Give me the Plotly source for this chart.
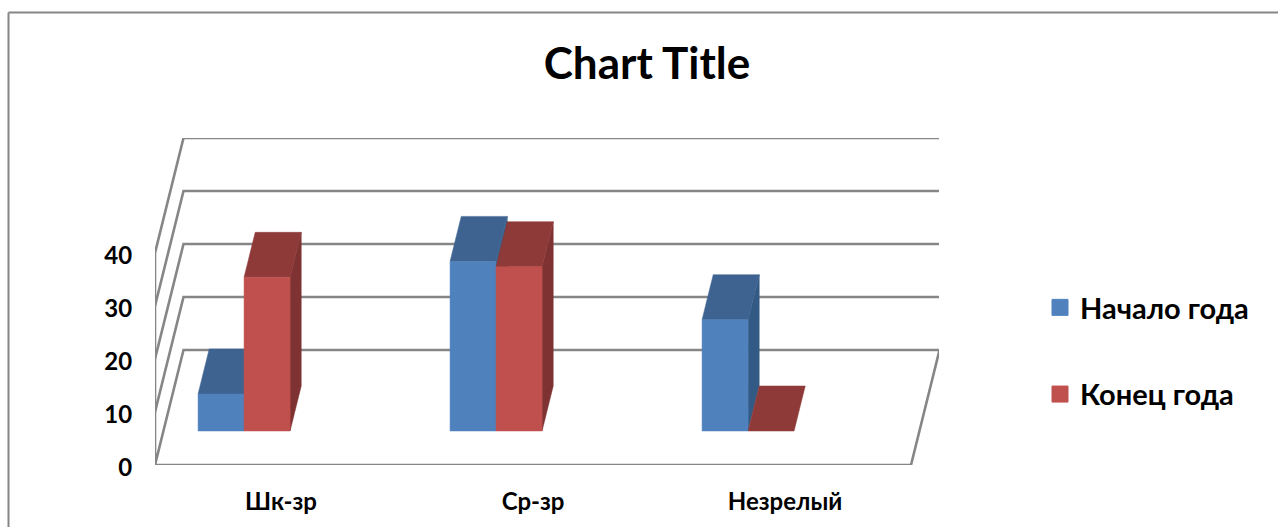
import plotly.graph_objects as go

categories = ["Шк-зр", "Ср-зр", "Незрелый"]
series_names = ["Начало года", "Конец года"]
start_of_year = [7, 32, 21]
end_of_year = [29, 31, 0]
value_ticks = [0, 10, 20, 30, 40]

FRONT = {"Начало года": "#4F81BD", "Конец года": "#C0504D"}
TOP = {"Начало года": "#3E6390", "Конец года": "#8E3A38"}
SIDE = {"Начало года": "#335A85", "Конец года": "#7E3231"}
GRID = "#868686"
FONT = "Lato, 'Open Sans', sans-serif"

PX_PER_CAT = 252.0
PX_PER_VAL = 5.3
DEPTH_X = 28.5 / PX_PER_CAT
DEPTH_Y = 115 / PX_PER_VAL
D0, D1 = 34 / 115, 79 / 115
BAR_W = 46 / PX_PER_CAT
BAR_MID = 0.32


def proj(x, v, d):
    return x + d * DEPTH_X, v + d * DEPTH_Y


fig = go.Figure()


def poly(points, color):
    xy = [proj(*p) for p in points]
    fig.add_trace(go.Scatter(
        x=[p[0] for p in xy] + [xy[0][0]], y=[p[1] for p in xy] + [xy[0][1]],
        mode="lines", fill="toself", fillcolor=color,
        line=dict(color=color, width=0.5), showlegend=False, hoverinfo="skip"))


def wall(points):
    xy = [proj(*p) for p in points]
    fig.add_trace(go.Scatter(
        x=[p[0] for p in xy], y=[p[1] for p in xy], mode="lines",
        line=dict(color=GRID, width=2.6), showlegend=False, hoverinfo="skip"))


n = len(categories)
for v in value_ticks[1:]:
    wall([(0, v, 0), (0, v, 1), (n, v, 1)])
wall([(0, value_ticks[-1], 0), (0, 0, 0), (n, 0, 0), (n, 0, 1), (0, 0, 1), (0, 0, 0)])

for i in range(n):
    for j, (name, vals) in enumerate(zip(series_names, [start_of_year, end_of_year])):
        x0 = i + BAR_MID + (j - 1) * BAR_W
        x1 = x0 + BAR_W
        v = vals[i]
        if v > 0:
            poly([(x1, 0, D0), (x1, 0, D1), (x1, v, D1), (x1, v, D0)], SIDE[name])
        poly([(x0, v, D0), (x1, v, D0), (x1, v, D1), (x0, v, D1)], TOP[name])
        if v > 0:
            poly([(x0, 0, D0), (x1, 0, D0), (x1, v, D0), (x0, v, D0)], FRONT[name])

for name in series_names:
    fig.add_trace(go.Scatter(
        x=[None], y=[None], mode="markers", name=name, legendgroup=name,
        marker=dict(symbol="square", size=16, color=FRONT[name],
                    line=dict(color=FRONT[name], width=1))))

fig.update_layout(
    width=1278, height=527, autosize=False,
    margin=dict(l=155, r=339, t=138, b=62, pad=0, autoexpand=False),
    paper_bgcolor="white", plot_bgcolor="rgba(0,0,0,0)",
    title=dict(text="<b>Chart Title</b>", x=647 / 1278, xanchor="center",
               y=1 - 64 / 527, yanchor="middle",
               font=dict(family=FONT, size=44, color="black")),
    xaxis=dict(range=[0, 784 / PX_PER_CAT], tickmode="array",
               tickvals=[i + 0.5 for i in range(n)], ticktext=categories,
               showgrid=False, zeroline=False, showline=False,
               ticks="outside", ticklen=15, tickcolor="rgba(0,0,0,0)",
               tickfont=dict(family=FONT, size=24, color="black", weight="bold")),
    yaxis=dict(range=[0, 327 / PX_PER_VAL], tickmode="array", tickvals=value_ticks,
               ticktext=[str(v) for v in value_ticks],
               showgrid=False, zeroline=False, showline=False,
               ticks="outside", ticklen=17, tickcolor="rgba(0,0,0,0)",
               ticklabelshift=3,
               tickfont=dict(family=FONT, size=24, color="black", weight="bold")),
    legend=dict(x=1040 / 1278, xref="container", xanchor="left", y=1 - 282 / 527,
                yref="container", yanchor="top", tracegroupgap=46,
                font=dict(family=FONT, size=29, color="black", weight="bold"),
                bgcolor="rgba(0,0,0,0)"),
    shapes=[
        dict(type="line", xref="paper", yref="paper",
             x0=(8.5 - 155) / 784, x1=(1278 - 155) / 784,
             y0=(465 - 12.5) / 327, y1=(465 - 12.5) / 327,
             line=dict(color=GRID, width=2)),
        dict(type="line", xref="paper", yref="paper",
             x0=(8.5 - 155) / 784, x1=(8.5 - 155) / 784,
             y0=(465 - 12.5) / 327, y1=(465 - 527) / 327,
             line=dict(color=GRID, width=2)),
    ],
)

fig.write_html("out.html", config={"displayModeBar": False},
               post_script="document.body.style.margin='0';")
